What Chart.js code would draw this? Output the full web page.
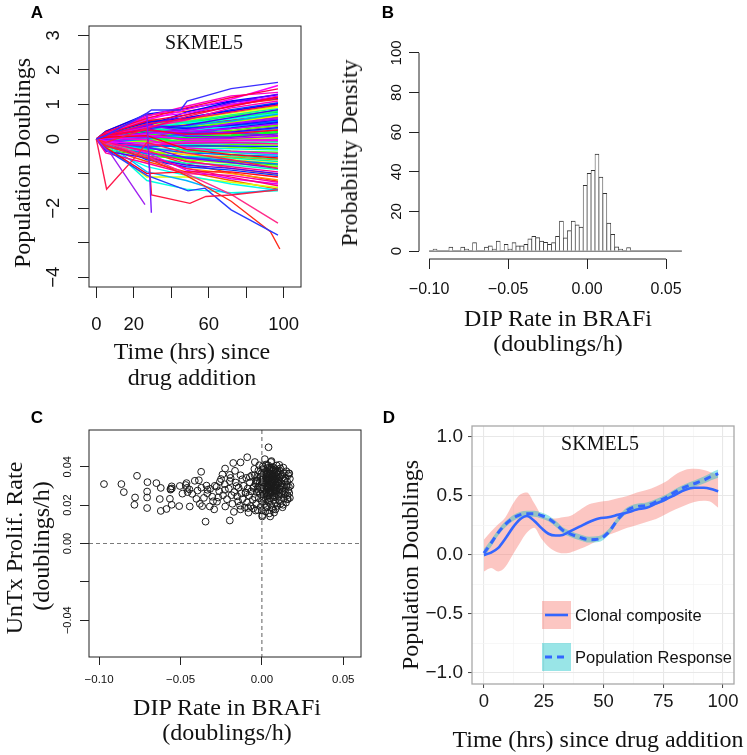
<!DOCTYPE html>
<html lang="en">
<head>
  <meta charset="UTF-8">
  <title>SKMEL5 clonal DIP rates</title>
  <script src="https://cdn.jsdelivr.net/npm/chart.js"></script>
  <style>
    body { margin: 0; background: #fff; }
    #fig { position: relative; width: 747px; height: 755px; overflow: hidden; }
    #fig canvas { position: absolute; left: 0; top: 0; }
    .lbl {
      position: absolute; transform: translate(-50%, -50%); white-space: nowrap; line-height: 1;
      color: #111; font-family: "Liberation Serif", "Times New Roman", serif; font-size: 24px;
    }
    .rot { transform: translate(-50%, -50%) rotate(-90deg); }
    .tag { font-family: "Liberation Sans", Arial, sans-serif; font-weight: bold; font-size: 17px; color: #000; }
  </style>
</head>
<body>
<div id="fig">
  <canvas id="chartA" width="747" height="755"></canvas>
  <canvas id="chartB" width="747" height="755"></canvas>
  <canvas id="chartC" width="747" height="755"></canvas>
  <canvas id="chartD" width="747" height="755"></canvas>

  <div class="lbl tag" style="left:37px;top:12px">A</div>
  <div class="lbl tag" style="left:388px;top:12px">B</div>
  <div class="lbl tag" style="left:37px;top:417px">C</div>
  <div class="lbl tag" style="left:389px;top:417px">D</div>

  <div class="lbl" style="left:204px;top:42px;font-size:20px">SKMEL5</div>
  <div class="lbl rot" style="left:22px;top:163px">Population Doublings</div>
  <div class="lbl" style="left:192px;top:351px">Time (hrs) since</div>
  <div class="lbl" style="left:192px;top:377px">drug addition</div>

  <div class="lbl rot" style="left:349px;top:153px">Probability Density</div>
  <div class="lbl" style="left:558px;top:318px">DIP Rate in BRAFi</div>
  <div class="lbl" style="left:558px;top:343px">(doublings/h)</div>

  <div class="lbl rot" style="left:14px;top:548px">UnTx Prolif. Rate</div>
  <div class="lbl rot" style="left:41px;top:546px">(doublings/h)</div>
  <div class="lbl" style="left:227px;top:707px">DIP Rate in BRAFi</div>
  <div class="lbl" style="left:227px;top:732px">(doublings/h)</div>

  <div class="lbl" style="left:600px;top:443px;font-size:20px">SKMEL5</div>
  <div class="lbl rot" style="left:410px;top:565px">Population Doublings</div>
  <div class="lbl" style="left:598px;top:739px">Time (hrs) since drug addition</div>
</div>

<script>
  // ---- Panel A: clone trajectories (population doublings) ----
  const timesA = [0, 5, 27, 48, 72, 97];
  const cloneDoublings = [
    [0, 0.15, 0.55, 0.85, 1.15, 1.55], [0, 0.20, 0.60, 0.90, 1.20, 1.45],
    [0, 0.12, 0.40, 0.70, 1.05, 1.30], [0, 0.18, 0.62, 0.75, 1.00, 1.25], [0, 0.05, 0.30, 0.65, 0.95, 1.20],
    [0, 0.22, 0.70, 0.80, 1.00, 1.15], [0, 0.10, 0.35, 0.55, 0.90, 1.10], [0, 0.15, 0.50, 0.60, 0.85, 1.05],
    [0, 0.08, 0.25, 0.50, 0.80, 1.00], [0, 0.20, 0.40, 0.55, 0.75, 0.95], [0, 0.02, 0.20, 0.45, 0.70, 0.92],
    [0, 0.12, 0.45, 0.50, 0.70, 0.88], [0, 0.06, 0.30, 0.40, 0.62, 0.85], [0, -0.05, 0.15, 0.35, 0.60, 0.80],
    [0, 0.10, 0.55, 0.45, 0.60, 0.78], [0, 0.14, 0.35, 0.42, 0.55, 0.75], [0, 0.00, 0.10, 0.30, 0.50, 0.70],
    [0, 0.08, 0.28, 0.35, 0.48, 0.68], [0, 0.18, 0.50, 0.40, 0.50, 0.65], [0, -0.08, 0.05, 0.25, 0.45, 0.62],
    [0, 0.05, 0.22, 0.30, 0.42, 0.60], [0, 0.12, 0.38, 0.30, 0.40, 0.56], [0, -0.02, 0.15, 0.22, 0.38, 0.55],
    [0, 0.10, 0.30, 0.28, 0.35, 0.52], [0, 0.04, 0.18, 0.20, 0.32, 0.48], [0, -0.10, 0.00, 0.15, 0.30, 0.45],
    [0, 0.15, 0.42, 0.25, 0.30, 0.42], [0, 0.06, 0.12, 0.18, 0.25, 0.40], [0, -0.04, 0.08, 0.12, 0.22, 0.36],
    [0, 0.10, 0.25, 0.15, 0.20, 0.33], [0, 0.02, 0.05, 0.10, 0.18, 0.30], [0, -0.12, -0.05, 0.05, 0.15, 0.28],
    [0, 0.08, 0.20, 0.10, 0.12, 0.25], [0, 0.00, 0.02, 0.05, 0.10, 0.22], [0, -0.06, 0.10, 0.02, 0.08, 0.18],
    [0, 0.12, 0.30, 0.08, 0.05, 0.15], [0, -0.15, -0.10, -0.02, 0.05, 0.12], [0, 0.04, 0.08, 0.00, 0.02, 0.08],
    [0, -0.02, -0.02, -0.05, 0.00, 0.05], [0, 0.10, 0.15, -0.05, -0.05, 0.00], [0, -0.08, -0.12, -0.08, -0.05, -0.04],
    [0, 0.06, 0.05, -0.10, -0.10, -0.08], [0, -0.20, -0.25, -0.15, -0.12, -0.12], [0, 0.02, -0.05, -0.12, -0.15, -0.18],
    [0, -0.10, -0.20, -0.20, -0.20, -0.22], [0, 0.08, 0.10, -0.15, -0.22, -0.28], [0, -0.05, -0.15, -0.25, -0.28, -0.32],
    [0, -0.15, -0.30, -0.30, -0.35, -0.38], [0, 0.04, -0.02, -0.25, -0.35, -0.42], [0, -0.25, -0.40, -0.35, -0.40, -0.45],
    [0, -0.08, -0.25, -0.40, -0.45, -0.50], [0, 0.05, 0.10, -0.30, -0.45, -0.55], [0, -0.18, -0.35, -0.45, -0.52, -0.60],
    [0, -0.05, -0.45, -0.50, -0.55, -0.65], [0, -0.12, -0.20, -0.45, -0.60, -0.70], [0, -0.30, -0.50, -0.55, -0.65, -0.75],
    [0, -0.02, -0.30, -0.60, -0.70, -0.80], [0, -0.20, -0.55, -0.70, -0.75, -0.88], [0, -0.10, -0.35, -0.65, -0.80, -0.95],
    [0, -0.35, -0.55, -0.75, -0.85, -1.00], [0, -0.08, -0.60, -0.80, -0.90, -1.05], [0, -0.25, -1.00, -0.95, -0.95, -1.10],
    [0, -0.15, -0.50, -0.85, -1.00, -1.18], [0, -0.40, -0.70, -1.00, -1.05, -1.25], [0, -0.05, -0.40, -0.90, -1.15, -1.30],
    [0, -0.20, -1.10, -1.10, -1.25, -1.40], [0, -0.30, -0.80, -1.05, -1.30, -1.48], [0, -0.12, -1.20, -1.45, -1.55, -1.50],
    [0, -0.10, -0.95, -1.20, -1.60, -1.45], [0, 0.16, 0.48, 0.62, 0.82, 1.02], [0, 0.03, 0.26, 0.48, 0.66, 0.83],
    [0, 0.09, 0.33, 0.38, 0.52, 0.72], [0, -0.03, 0.18, 0.27, 0.43, 0.58], [0, 0.13, 0.40, 0.33, 0.39, 0.50],
    [0, 0.07, 0.16, 0.22, 0.30, 0.44], [0, -0.07, 0.04, 0.10, 0.20, 0.34], [0, 0.11, 0.27, 0.14, 0.16, 0.26],
    [0, 0.01, 0.00, 0.02, 0.07, 0.16], [0, -0.11, -0.08, -0.04, 0.01, 0.06], [0, 0.05, 0.12, -0.02, -0.03, -0.02],
    [0, -0.14, -0.18, -0.12, -0.10, -0.14], [0, 0.03, -0.08, -0.18, -0.24, -0.30], [0, -0.09, -0.28, -0.32, -0.38, -0.46],
    [0, 0.06, 0.02, -0.35, -0.48, -0.58], [0, -0.22, -0.42, -0.52, -0.62, -0.72], [0, 0.00, -0.22, -0.55, -0.68, -0.85],
    [0, 0.18, 0.66, 0.95, 1.25, 1.35], [0, 0.22, 0.72, 0.88, 1.10, 1.28], [0, 0.10, 0.38, 0.78, 1.08, 1.18],
    [0, -0.18, -0.48, -0.85, -1.10, -1.35], [0, -0.28, -0.65, -0.95, -1.20, -1.45],
    [0, 0.14, 0.52, 0.70, 0.95, 1.22], [0, 0.09, 0.44, 0.58, 0.78, 0.98], [0, 0.17, 0.58, 0.52, 0.68, 0.82],
    [0, 0.04, 0.36, 0.46, 0.58, 0.74], [0, 0.11, 0.47, 0.40, 0.52, 0.63], [0, -0.06, 0.24, 0.32, 0.44, 0.52],
    [0, 0.08, 0.41, 0.22, 0.18, 0.10], [0, -0.12, -0.30, -0.62, -0.85, -1.02], [0, -0.04, -0.36, -0.72, -0.98, -1.22]
  ];
  // clones imaged on their own schedule
  const oddTimes = [
    [0, 5, 27, 29.5, 45, 48.5, 72, 97],
    [0, 5.5, 22, 27, 48, 72, 97],
    [0, 8, 26],
    [0, 5, 27, 29.4],
    [0, 5, 27, 29.5, 50, 58.5, 72, 97],
    [0, 5, 27, 49, 58, 72, 97],
    [0, 5, 27, 48, 72, 93, 98],
    [0, 5, 27, 48, 72, 97]
  ];
  const oddValues = [
    [0, 0.1, 0.75, 0.84, 0.84, 1.1, 1.46, 1.64],
    [0, -1.45, -0.45, -0.1, -0.4, -0.6, -0.85],
    [0, -0.45, -1.9],
    [0, 0.1, 0.72, -2.13],
    [0, -0.1, 0.3, -1.62, -1.86, -1.66, -1.62, -1.47],
    [0, -0.3, -1.05, -1.5, -1.42, -2.05, -2.78],
    [0, -0.2, -0.55, -1.05, -1.8, -2.68, -3.18],
    [0, -0.1, -0.5, -1.0, -1.6, -2.43]
  ];
  const oddColors = ['#3a2dff', '#ff1a4d', '#a020f0', '#7a1cff', '#ff1a40', '#2a3cff', '#ff2a1a', '#ff2b8a'];
  const xTicksA = [0, 20, 40, 60, 80, 100];
  const xTickLabelsA = ['0', '20', '', '60', '', '100'];
  const yTicksA = [-4, -3, -2, -1, 0, 1, 2, 3];
  const yTickLabelsA = ['\u22124', '', '\u22122', '', '0', '1', '2', '3'];

  // ---- Panel B: histogram of DIP rates ----
  const histStart = -0.1;
  const histWidth = 0.0025;
  const histDensity = [
    0, 1, 0, 0, 0, 2, 0, 0, 2, 1, 0, 4.3, 0, 0, 2, 2.6, 1, 5, 0, 3.4,
    1, 4.3, 2.6, 2.6, 3.4, 6.2, 7.5, 6.8, 5.1, 4.4, 3.4, 4.3, 7.5, 15.2, 6.7, 10.3, 15.2, 13.2, 12.1, 33.2,
    39.2, 40.7, 48.9, 37.4, 29.1, 14.1, 8.4, 2.2, 1, 0, 1.8, 0, 0, 0, 0, 0, 0, 0, 0, 0,
    0, 0, 0, 0
  ];
  const xTicksB = [-0.1, -0.05, 0, 0.05];
  const xTickLabelsB = ['\u22120.10', '\u22120.05', '0.00', '0.05'];
  const yTicksB = [0, 20, 40, 60, 80, 100];
  const yTickLabelsB = ['0', '20', '40', '60', '80', '100'];

  // ---- Panel C: DIP rate vs untreated proliferation rate ----
  const dipRate = [
    -0.097, -0.0863, -0.0848, -0.0767, -0.0779, -0.0783, -0.0703, -0.0705, -0.0705, -0.0705,
    -0.0648, -0.0621, -0.0627, -0.0621, -0.0586, -0.0561, -0.0565, -0.0554, -0.0554, -0.0504,
    -0.0508, -0.0488, -0.0463, -0.046, -0.0443, -0.0412, -0.0387, -0.0373, -0.0402, -0.0381,
    -0.0367, -0.0346, -0.034, -0.0334, -0.032, -0.030, -0.0293, -0.0278, -0.0268, -0.0258,
    -0.0242, -0.0227, -0.0225, -0.0197, -0.0197, -0.0176, -0.0186, -0.0172, -0.0156, -0.0146,
    -0.0131, -0.0131, -0.0131, -0.009, -0.0098, -0.0084, -0.0074, -0.0053, -0.0043, -0.0039,
    0.0041, 0.0018, 0.0059, 0.0107, 0.0162, 0.0166, 0.0156, 0.015, 0.0002, 0.0,
    0.0051, 0.0084, 0.013, -0.0335, -0.0318, -0.0305, -0.0289, -0.0276, -0.0262, -0.0251,
    -0.0239, -0.0228, -0.0214, -0.0203, -0.0192, -0.0181, -0.0170, -0.0161, -0.0152, -0.0143,
    -0.0134, -0.0126, -0.0120, -0.0445, -0.0428, -0.0395, -0.0372, -0.0356, -0.0561, -0.0553,
    -0.0468, -0.0456, -0.0226, -0.0197, -0.0165, -0.0118, -0.0112, -0.0105, -0.0101, -0.0096,
    -0.0091, -0.0087, -0.0082, -0.0078, -0.0074, -0.0069, -0.0066, -0.0061, -0.0057, -0.0053,
    -0.0049, -0.0046, -0.0043, -0.0039, -0.0036, -0.0032, -0.0029, -0.0025, -0.0022, -0.0019,
    -0.0016, -0.0013, -0.0010, -0.0008, -0.0005, -0.0003, -0.0001, 0.0001, 0.0003, 0.0005,
    0.0007, 0.0009, 0.0011, 0.0013, 0.0014, 0.0016, 0.0018, 0.0019, 0.0021, 0.0023,
    0.0025, 0.0026, 0.0028, 0.0030, 0.0031, 0.0033, 0.0035, 0.0036, 0.0038, 0.0040,
    0.0041, 0.0043, 0.0045, 0.0046, 0.0048, 0.0049, 0.0051, 0.0052, 0.0054, 0.0056,
    0.0057, 0.0059, 0.0060, 0.0062, 0.0064, 0.0065, 0.0067, 0.0069, 0.0070, 0.0072,
    0.0074, 0.0075, 0.0077, 0.0079, 0.0081, 0.0083, 0.0085, 0.0087, 0.0089, 0.0091,
    0.0093, 0.0095, 0.0097, 0.0099, 0.0102, 0.0105, 0.0108, 0.0111, 0.0114, 0.0117,
    0.0120, 0.0124, 0.0127, 0.0131, 0.0135, 0.0139, 0.0143, 0.0148, 0.0153, 0.0158,
    0.0163, 0.0168, 0.0172, 0.0176,
    0.0012, 0.0024, 0.0034, 0.0044, 0.0053, 0.0063, 0.0073, 0.0082, 0.0092, 0.0027,
    0.0039, 0.0058, 0.0068, 0.0078, 0.0047, 0.0017, 0.0008, 0.0066, 0.0086, 0.0101,
    0.0032, 0.0055, 0.0071, 0.0029, 0.0061, 0.0044, 0.0083, 0.0015, 0.0050, 0.0076,
    -0.0012, -0.0027, 0.0004, 0.0110, 0.0122, 0.0096, 0.0035, 0.0058, 0.0020, 0.0070,
    -0.0044, -0.0021, 0.0006, 0.0028, 0.0049, 0.0071, 0.0093, 0.0115, -0.0033, -0.0009,
    0.0016, 0.0039, 0.0062, 0.0084, 0.0106, 0.0125, -0.0027, 0.0003, 0.0031, 0.0055,
    0.0079, 0.0101, 0.0118, 0.0022, 0.0046, 0.0069, 0.0090, 0.0110, 0.0128, 0.0012,
    0.0036, 0.0057, 0.0081, 0.0104, -0.0018, 0.0009, 0.0042, 0.0064, 0.0087, 0.0113,
    0.0135, 0.0145, 0.0156, 0.0166, 0.0141, 0.0168, 0.0172, 0.0150, 0.0132, 0.0160
  ];
  const untxRate = [
    0.031, 0.031, 0.0268, 0.0353, 0.024, 0.0202, 0.032, 0.0271, 0.024, 0.0185,
    0.0315, 0.029, 0.0232, 0.017, 0.018, 0.0285, 0.0233, 0.0202, 0.0298, 0.030,
    0.0195, 0.026, 0.0315, 0.029, 0.0193, 0.0327, 0.033, 0.0374, 0.0233, 0.0207,
    0.0195, 0.0114, 0.0302, 0.028, 0.0193, 0.022, 0.0178, 0.0296, 0.024, 0.0322,
    0.036, 0.028, 0.0193, 0.012, 0.0325, 0.042, 0.0252, 0.0165, 0.030, 0.022,
    0.0423, 0.0356, 0.0178, 0.045, 0.0265, 0.0185, 0.0347, 0.029, 0.0425, 0.0172,
    0.0502, 0.044, 0.043, 0.041, 0.0356, 0.0365, 0.0233, 0.0298, 0.0141, 0.0172,
    0.0141, 0.0178, 0.0202, 0.0262, 0.0285, 0.0244, 0.0301, 0.0218, 0.0273, 0.0336,
    0.0252, 0.0309, 0.0231, 0.0286, 0.0342, 0.0207, 0.0268, 0.0318, 0.0246, 0.0292,
    0.0197, 0.0261, 0.0335, 0.0282, 0.0259, 0.0276, 0.0291, 0.0238, 0.0281, 0.0287,
    0.0305, 0.0268, 0.0391, 0.0358, 0.0379, 0.0232, 0.0301, 0.0188, 0.0265, 0.0342,
    0.0214, 0.0287, 0.0161, 0.0249, 0.0318, 0.0196, 0.0272, 0.0355, 0.0228, 0.0183,
    0.0296, 0.0389, 0.0241, 0.0312, 0.0207, 0.0268, 0.0347, 0.0174, 0.0295, 0.0236,
    0.0408, 0.0322, 0.0259, 0.0191, 0.0283, 0.0366, 0.0222, 0.0305, 0.0148, 0.0271,
    0.0339, 0.0243, 0.0392, 0.0289, 0.0206, 0.0317, 0.0258, 0.0356, 0.0168, 0.0298,
    0.0231, 0.0412, 0.0276, 0.0329, 0.0192, 0.0302, 0.0251, 0.0371, 0.0287, 0.0218,
    0.0343, 0.0265, 0.0309, 0.0157, 0.0384, 0.0279, 0.0236, 0.0322, 0.0295, 0.0425,
    0.0202, 0.0351, 0.0268, 0.0311, 0.0185, 0.0337, 0.0249, 0.0398, 0.0292, 0.0227,
    0.0326, 0.0161, 0.0276, 0.0361, 0.0241, 0.0305, 0.0213, 0.0348, 0.0262, 0.0407,
    0.0288, 0.0196, 0.0319, 0.0253, 0.0336, 0.0224, 0.0281, 0.0378, 0.0207, 0.0303,
    0.0259, 0.0356, 0.0189, 0.0292, 0.0234, 0.0329, 0.0271, 0.0213, 0.0305, 0.0252,
    0.0278, 0.0366, 0.0238, 0.0301,
    0.0312, 0.0268, 0.0335, 0.0292, 0.0263, 0.0299, 0.0348, 0.0322, 0.0341, 0.0349,
    0.0327, 0.0319, 0.0282, 0.0293, 0.0361, 0.0283, 0.0232, 0.0365, 0.0275, 0.0312,
    0.0246, 0.0271, 0.0383, 0.0364, 0.0334, 0.0226, 0.0338, 0.0362, 0.0308, 0.0251,
    0.0345, 0.0329, 0.0387, 0.0265, 0.0314, 0.0374, 0.0394, 0.0397, 0.0188, 0.0178,
    0.0356, 0.0381, 0.0402, 0.0363, 0.0396, 0.0384, 0.0371, 0.0352, 0.0327, 0.0349,
    0.0373, 0.0408, 0.0376, 0.0388, 0.0325, 0.0339, 0.0284, 0.0318, 0.0357, 0.0384,
    0.0331, 0.0358, 0.0297, 0.0327, 0.0331, 0.0318, 0.0302, 0.0286, 0.0272, 0.0258,
    0.0296, 0.0287, 0.0264, 0.0247, 0.0271, 0.0342, 0.0351, 0.0357, 0.0366, 0.0392,
    0.0368, 0.0341, 0.0322, 0.0295, 0.0255, 0.0263, 0.0338, 0.0377, 0.0396, 0.0231
  ];
  const xTicksC = [-0.1, -0.05, 0, 0.05];
  const xTickLabelsC = ['\u22120.10', '\u22120.05', '0.00', '0.05'];
  const yTicksC = [-0.04, -0.02, 0, 0.02, 0.04];
  const yTickLabelsC = ['\u22120.04', '', '0.00', '0.02', '0.04'];

  // ---- Panel D: clonal composite vs population response ----
  const timeD = [0, 3, 6, 9, 12, 15, 18, 21, 24, 27, 30, 33, 36, 40, 44, 48, 52, 56, 60, 64, 68, 72, 76, 80, 84, 88, 92, 95, 98];
  const clonalMean = [0.0, 0.02, 0.06, 0.14, 0.23, 0.30, 0.33, 0.29, 0.23, 0.18, 0.165, 0.17, 0.20, 0.24, 0.28, 0.31, 0.32, 0.34, 0.36, 0.385, 0.40, 0.435, 0.47, 0.51, 0.55, 0.57, 0.57, 0.56, 0.54];
  const clonalHi = [0.13, 0.2, 0.26, 0.32, 0.43, 0.51, 0.53, 0.44, 0.34, 0.31, 0.31, 0.32, 0.33, 0.38, 0.43, 0.45, 0.46, 0.48, 0.50, 0.53, 0.55, 0.58, 0.62, 0.68, 0.72, 0.73, 0.72, 0.70, 0.68];
  const clonalLo = [-0.14, -0.11, -0.14, -0.10, 0.00, 0.10, 0.19, 0.23, 0.14, 0.07, 0.03, 0.015, 0.02, 0.05, 0.085, 0.13, 0.17, 0.20, 0.23, 0.255, 0.28, 0.305, 0.345, 0.385, 0.42, 0.45, 0.46, 0.45, 0.40];
  const popMean = [0.015, 0.10, 0.19, 0.26, 0.31, 0.34, 0.35, 0.35, 0.335, 0.31, 0.265, 0.21, 0.18, 0.15, 0.13, 0.135, 0.19, 0.30, 0.38, 0.41, 0.42, 0.45, 0.485, 0.535, 0.575, 0.605, 0.635, 0.665, 0.69];
  const popHi = [0.05, 0.13, 0.215, 0.285, 0.335, 0.365, 0.375, 0.375, 0.36, 0.335, 0.29, 0.235, 0.205, 0.175, 0.155, 0.16, 0.215, 0.325, 0.405, 0.435, 0.445, 0.475, 0.51, 0.56, 0.6, 0.632, 0.665, 0.697, 0.725];
  const popLo = [-0.02, 0.07, 0.165, 0.235, 0.285, 0.315, 0.325, 0.325, 0.31, 0.285, 0.24, 0.185, 0.155, 0.125, 0.105, 0.11, 0.165, 0.275, 0.355, 0.385, 0.395, 0.425, 0.46, 0.51, 0.55, 0.578, 0.605, 0.633, 0.655];
  const xTicksD = [0, 12.5, 25, 37.5, 50, 62.5, 75, 87.5, 100];
  const xTickLabelsD = ['0', '', '25', '', '50', '', '75', '', '100'];
  const yTicksD = [-1, -0.75, -0.5, -0.25, 0, 0.25, 0.5, 0.75, 1];
  const yTickLabelsD = ['\u22121.0', '', '\u22120.5', '', '0.0', '', '0.5', '', '1.0'];
  const seriesD = ['Clonal composite', 'Population Response'];

  // ---- shared helpers ----
  const SANS = '"Liberation Sans", Arial, Helvetica, sans-serif';
  const BLUE = '#3366ff';
  const PINK = 'rgba(248, 118, 109, 0.42)';
  const CYAN = 'rgba(0, 191, 196, 0.4)';
  Chart.defaults.font.family = SANS;

  // axis boxes get a fixed size so the plot areas land where the figure has them
  const fixW = w => s => { s.width = w; };
  const fixH = h => s => { s.height = h; };
  const fixTicks = vals => s => { s.ticks = vals.map(v => ({ value: v })); };
  const pairs = (xs, ys) => ys.map((y, i) => ({ x: xs[i], y: y }));

  // R-style decorations: frame, axis lines, rotated y labels, reference lines, legend
  function makeDeco(cfg) {
    return {
      id: 'deco',
      afterDraw(chart) {
        const ctx = chart.ctx, a = chart.chartArea;
        const xs = chart.scales.x, ys = chart.scales.y;
        ctx.save();
        if (cfg.zeroLines) {
          ctx.strokeStyle = '#7a7a7a';
          ctx.lineWidth = 1.2;
          ctx.setLineDash([4, 3]);
          const px = xs.getPixelForValue(0), py = ys.getPixelForValue(0);
          ctx.beginPath();
          ctx.moveTo(px, a.top); ctx.lineTo(px, a.bottom);
          ctx.moveTo(a.left, py); ctx.lineTo(a.right, py);
          ctx.stroke();
          ctx.setLineDash([]);
        }
        if (cfg.frame) {
          ctx.strokeStyle = cfg.frame;
          ctx.lineWidth = cfg.frameWidth || 1;
          ctx.strokeRect(a.left, a.top, a.right - a.left, a.bottom - a.top);
        }
        if (cfg.axisLines) {
          ctx.strokeStyle = '#222';
          ctx.lineWidth = 1;
          const xt = xs.ticks, yt = ys.ticks;
          ctx.beginPath();
          ctx.moveTo(xs.getPixelForValue(xt[0].value), a.bottom);
          ctx.lineTo(xs.getPixelForValue(xt[xt.length - 1].value), a.bottom);
          ctx.moveTo(a.left, ys.getPixelForValue(yt[0].value));
          ctx.lineTo(a.left, ys.getPixelForValue(yt[yt.length - 1].value));
          ctx.stroke();
        }
        if (cfg.yLabels) {
          const yl = cfg.yLabels;
          ctx.fillStyle = '#111';
          ctx.font = yl.font;
          ctx.textAlign = 'center';
          ctx.textBaseline = 'middle';
          yl.values.forEach((v, i) => {
            if (!yl.labels[i]) return;
            ctx.save();
            ctx.translate(yl.x, ys.getPixelForValue(v));
            ctx.rotate(-Math.PI / 2);
            ctx.fillText(yl.labels[i], 0, 0);
            ctx.restore();
          });
        }
        if (cfg.legend) {
          const lg = cfg.legend;
          lg.items.forEach((it, i) => {
            const top = lg.y + i * lg.step;
            const line = chart.data.datasets[it.line];
            ctx.fillStyle = chart.data.datasets[it.ribbon].backgroundColor;
            ctx.fillRect(lg.x, top, lg.w, lg.h);
            ctx.strokeStyle = line.borderColor;
            ctx.lineWidth = line.borderWidth;
            ctx.setLineDash(line.borderDash || []);
            ctx.beginPath();
            ctx.moveTo(lg.x + 3, top + lg.h / 2);
            ctx.lineTo(lg.x + lg.w - 3, top + lg.h / 2);
            ctx.stroke();
            ctx.setLineDash([]);
            ctx.fillStyle = '#111';
            ctx.font = lg.font;
            ctx.textAlign = 'left';
            ctx.textBaseline = 'middle';
            ctx.fillText(line.label, lg.x + lg.w + 4, top + lg.h / 2 + 1);
          });
        }
        ctx.restore();
      }
    };
  }

  function rAxis(ticks, labels, len, pad, size, hideLabels) {
    return {
      type: 'linear',
      offset: false,
      afterBuildTicks: fixTicks(ticks),
      border: { display: false },
      grid: { offset: false, drawOnChartArea: false, tickLength: len, color: '#222', lineWidth: 1 },
      ticks: {
        display: !hideLabels, autoSkip: false, maxRotation: 0, minRotation: 0, padding: pad,
        color: '#111', font: { family: SANS, size: size },
        callback: (v, i) => labels[i]
      }
    };
  }

  // ---- Panel A ----
  // draw order of the clones is shuffled so colours do not follow the outcome
  const nA = cloneDoublings.length;
  const shuffleKey = r => { const s = Math.sin((r + 1) * 78.233) * 43758.5453; return s - Math.floor(s); };
  const drawOrder = cloneDoublings.map((_, r) => r).sort((p, q) => shuffleKey(p) - shuffleKey(q));
  const datasetsA = [];
  oddValues.forEach((vals, i) => {
    datasetsA.push({ data: pairs(oddTimes[i], vals), borderColor: oddColors[i] });
  });
  drawOrder.forEach((r, k) => {
    const hue = Math.round((nA - 1 - k) / nA * 360);
    datasetsA.push({ data: pairs(timesA, cloneDoublings[r]), borderColor: 'hsl(' + hue + ',100%,50%)' });
  });
  const xA = Object.assign(rAxis(xTicksA, xTickLabelsA, 11, 16, 18.5), { min: -3.9, max: 109.3, afterFit: fixH(60) });
  const yA = Object.assign(rAxis(yTicksA, yTickLabelsA, 11, 0, 18, true), { min: -4.28, max: 3.27, afterFit: fixW(0) });
  new Chart(document.getElementById('chartA'), {
    type: 'line',
    data: { datasets: datasetsA },
    options: {
      responsive: false, animation: false, events: [],
      layout: { padding: { left: 89, right: 446, top: 26, bottom: 408 } },
      elements: { point: { radius: 0 }, line: { borderWidth: 1.4, tension: 0 } },
      plugins: { legend: { display: false }, tooltip: { enabled: false } },
      scales: { x: xA, y: yA }
    },
    plugins: [makeDeco({
      frame: '#222',
      yLabels: { values: yTicksA, labels: yTickLabelsA, x: 54, font: '18.5px ' + SANS }
    })]
  });

  // ---- Panel B ----
  const histBars = histDensity.map((d, i) => ({ x: histStart + (i + 0.5) * histWidth, y: d }));
  const histEnd = histStart + histDensity.length * histWidth;
  const xB = Object.assign(rAxis(xTicksB, xTickLabelsB, 10, 11, 16), { min: -0.1064, max: 0.0664, afterFit: fixH(50) });
  const yB = Object.assign(rAxis(yTicksB, yTickLabelsB, 10, 0, 15, true), { min: -4, max: 104, afterFit: fixW(0) });
  new Chart(document.getElementById('chartB'), {
    type: 'bar',
    data: {
      datasets: [
        {
          type: 'bar', data: histBars, backgroundColor: '#ffffff', borderColor: '#333',
          borderWidth: { left: 0.7, right: 0.7, top: 1, bottom: 0 },
          barPercentage: 1, categoryPercentage: 1
        },
        {
          type: 'line', data: [{ x: histStart, y: 0 }, { x: histEnd, y: 0 }],
          borderColor: '#333', borderWidth: 1, pointRadius: 0
        }
      ]
    },
    options: {
      responsive: false, animation: false, events: [],
      layout: { padding: { left: 419, right: 55, top: 45, bottom: 446 } },
      plugins: { legend: { display: false }, tooltip: { enabled: false } },
      scales: { x: xB, y: yB }
    },
    plugins: [makeDeco({
      axisLines: true,
      yLabels: { values: yTicksB, labels: yTickLabelsB, x: 397, font: '15px ' + SANS }
    })]
  });

  // ---- Panel C ----
  const xC = Object.assign(rAxis(xTicksC, xTickLabelsC, 8, 8, 11.5), { min: -0.1062, max: 0.0609, afterFit: fixH(35) });
  const yC = Object.assign(rAxis(yTicksC, yTickLabelsC, 9, 0, 11, true), { min: -0.0592, max: 0.0592, afterFit: fixW(0) });
  new Chart(document.getElementById('chartC'), {
    type: 'scatter',
    data: {
      datasets: [{
        data: pairs(dipRate, untxRate), pointStyle: 'circle', pointRadius: 3.4,
        pointBorderWidth: 1, pointBorderColor: '#1a1a1a', pointBackgroundColor: 'rgba(0,0,0,0)'
      }]
    },
    options: {
      responsive: false, animation: false, events: [],
      layout: { padding: { left: 89, right: 386, top: 430, bottom: 63 } },
      plugins: { legend: { display: false }, tooltip: { enabled: false } },
      scales: { x: xC, y: yC }
    },
    plugins: [makeDeco({
      zeroLines: true,
      frame: '#222',
      yLabels: { values: yTicksC, labels: yTickLabelsC, x: 68, font: '11px ' + SANS }
    })]
  });

  // ---- Panel D ----
  const gridD = {
    offset: false, drawOnChartArea: true, drawTicks: true, tickLength: 4,
    color: c => (c.tick && c.tick.label === '' ? '#f4f4f4' : '#e8e8e8'),
    lineWidth: c => (c.tick && c.tick.label === '' ? 0.7 : 1.1),
    tickColor: c => (c.tick && c.tick.label === '' ? 'rgba(0,0,0,0)' : '#444'),
    tickWidth: 1
  };
  const axisD = (ticks, labels, min, max, pad, size, fit) => ({
    type: 'linear', min: min, max: max, offset: false, afterFit: fit,
    afterBuildTicks: fixTicks(ticks),
    border: { display: false },
    grid: gridD,
    ticks: {
      autoSkip: false, maxRotation: 0, minRotation: 0, padding: pad, color: '#1a1a1a',
      font: { family: SANS, size: size }, callback: (v, i) => labels[i]
    }
  });
  new Chart(document.getElementById('chartD'), {
    type: 'line',
    data: {
      datasets: [
        { label: seriesD[1], data: pairs(timeD, popMean), borderColor: BLUE, borderWidth: 3, borderDash: [7, 5] },
        { label: seriesD[0], data: pairs(timeD, clonalMean), borderColor: BLUE, borderWidth: 2.6 },
        { data: pairs(timeD, popHi), borderWidth: 0, backgroundColor: CYAN, fill: '+1' },
        { data: pairs(timeD, popLo), borderWidth: 0 },
        { data: pairs(timeD, clonalHi), borderWidth: 0, backgroundColor: PINK, fill: '+1' },
        { data: pairs(timeD, clonalLo), borderWidth: 0 }
      ]
    },
    options: {
      responsive: false, animation: false, events: [],
      layout: { padding: { left: 412, right: 13, top: 426, bottom: 36 } },
      elements: { point: { radius: 0 }, line: { cubicInterpolationMode: 'monotone' } },
      plugins: { legend: { display: false }, tooltip: { enabled: false } },
      scales: {
        x: axisD(xTicksD, xTickLabelsD, -4.98, 104.6, 3, 18.5, fixH(35)),
        y: axisD(yTicksD, yTickLabelsD, -1.093, 1.093, 5, 19, fixW(60))
      }
    },
    plugins: [makeDeco({
      frame: '#a8a8a8', frameWidth: 1.3,
      legend: {
        x: 542, y: 601, w: 29, h: 28, step: 42, font: '16.5px ' + SANS,
        items: [{ line: 1, ribbon: 4 }, { line: 0, ribbon: 2 }]
      }
    })]
  });
</script>
</body>
</html>
